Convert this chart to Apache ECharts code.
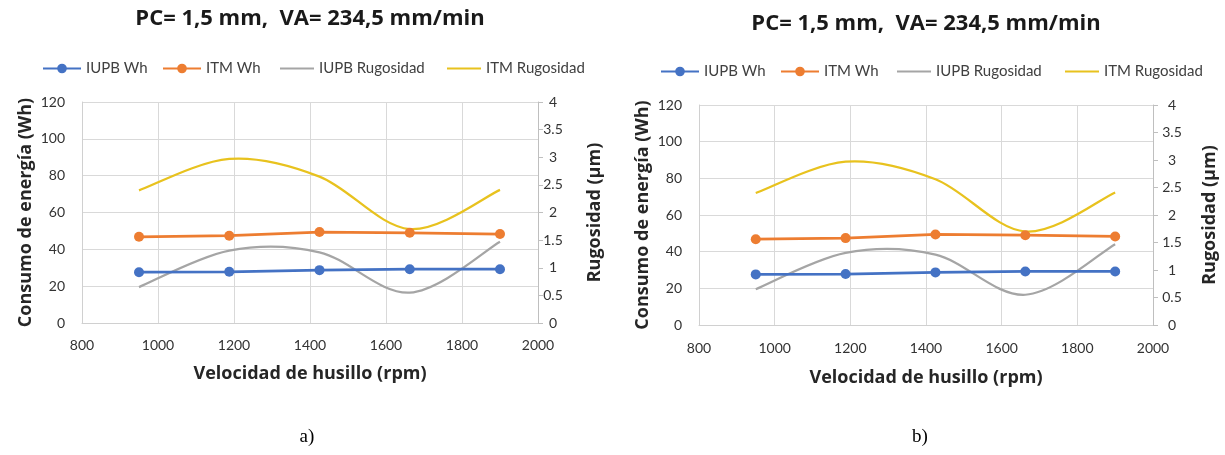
<!DOCTYPE html>
<html>
<head>
<meta charset="utf-8">
<script src="https://cdn.jsdelivr.net/npm/echarts@6/dist/echarts.min.js"></script>
<style>html,body{margin:0;padding:0;background:#fff}#c{width:1225px;height:455px}</style>
</head>
<body>
<div id="c"></div>
<script>
// ---- data ----
const speeds = [950, 1187.5, 1425, 1662.5, 1900];
const iupbWh = [27.6, 27.8, 28.7, 29.2, 29.2];
const itmWh = [46.8, 47.4, 49.4, 49.0, 48.3];
const iupbRug = [0.65, 1.31, 1.28, 0.55, 1.47];
const itmRug = [2.40, 2.97, 2.65, 1.70, 2.41];
const seriesNames = ['IUPB Wh', 'ITM Wh', 'IUPB Rugosidad', 'ITM Rugosidad'];
const titleText = 'PC= 1,5 mm,  VA= 234,5 mm/min';
const xTitle = 'Velocidad de husillo (rpm)';
const yLeftTitle = 'Consumo de energía (Wh)';
const yRightTitle = 'Rugosidad (µm)';
const panelLabels = ['a)', 'b)'];

const FONT = 'Lato';
const TFONT = 'Open Sans';
const colors = ['#4472C4', '#ED7D31', '#A5A5A5', '#E8C21E'];
const LINE_ICON = 'path://M0,0L0,13L0,0Z M0,5.4L34,5.4L34,7.6L0,7.6Z';
const chart = echarts.init(document.getElementById('c'));

const panels = [
  {grid:{left:82, top:102, width:456, height:221}, titleX:310, titleY:19, legendY:65,
   legendX:[37,157,275,442], yNameGapL:47, yNameGapR:48, xNameGap:42, xLabelMargin:15, rMargin:15, label:[307,437]},
  {grid:{left:699, top:105, width:454, height:220}, titleX:926, titleY:24, legendY:68,
   legendX:[655,775,892,1060], yNameGapL:47, yNameGapR:48, xNameGap:44, xLabelMargin:16, rMargin:19, label:[920,437]}
];

// Excel-like smoothed line drawn through the axes' own coordinate conversion
function smoothSeries(name, arr, xi, yi, color, width) {
  return {
    name: name, type: 'custom', xAxisIndex: xi, yAxisIndex: yi, z: 2,
    data: speeds.map((s, k) => [s, arr[k]]),
    encode: {x: 0, y: 1},
    itemStyle: {color: color},
    silent: true,
    renderItem: function (params, api) {
      if (params.dataIndex !== 0) return null;
      const pts = speeds.map((s, k) => api.coord([s, arr[k]]));
      let d = 'M' + pts[0][0] + ' ' + pts[0][1];
      for (let k = 0; k < pts.length - 1; k++) {
        const p0 = pts[k - 1] || pts[k], p1 = pts[k], p2 = pts[k + 1], p3 = pts[k + 2] || pts[k + 1];
        const c1 = [p1[0] + (p2[0] - p0[0]) / 6, p1[1] + (p2[1] - p0[1]) / 6];
        const c2 = [p2[0] - (p3[0] - p1[0]) / 6, p2[1] - (p3[1] - p1[1]) / 6];
        d += ' C' + c1[0] + ' ' + c1[1] + ' ' + c2[0] + ' ' + c2[1] + ' ' + p2[0] + ' ' + p2[1];
      }
      return {type: 'path', shape: {pathData: d}, style: {fill: 'none', stroke: color, lineWidth: width}};
    }
  };
}

const grids = [], xAxes = [], yAxes = [], series = [], legends = [], graphics = [];
const nameStyle = {fontFamily:TFONT, fontSize:18, fontWeight:'bold', color:'#262626'};
panels.forEach((p, i) => {
  grids.push(Object.assign({outerBoundsMode:'none', containLabel:false}, p.grid));
  xAxes.push({
    type:'value', gridIndex:i, min:800, max:2000, interval:200,
    name:xTitle, nameLocation:'middle', nameGap:p.xNameGap, nameTextStyle:nameStyle,
    axisLine:{show:true, lineStyle:{color:'#D0D0D0', width:1}},
    axisTick:{show:false},
    axisLabel:{fontFamily:FONT, fontSize:14, color:'#333', margin:p.xLabelMargin, formatter:(v) => String(v)},
    splitLine:{show:true, lineStyle:{color:'#D9D9D9', width:1}}
  });
  yAxes.push({
    type:'value', gridIndex:i, position:'left', min:0, max:120, interval:20,
    name:yLeftTitle, nameLocation:'middle', nameGap:p.yNameGapL, nameRotate:90, nameTextStyle:nameStyle,
    axisLine:{show:true, lineStyle:{color:'#D0D0D0'}},
    axisTick:{show:false},
    axisLabel:{fontFamily:FONT, fontSize:14, color:'#333', margin:17},
    splitLine:{show:true, lineStyle:{color:'#D9D9D9', width:1}}
  });
  yAxes.push({
    type:'value', gridIndex:i, position:'right', min:0, max:4, interval:0.5,
    name:yRightTitle, nameLocation:'middle', nameGap:p.yNameGapR, nameRotate:90, nameTextStyle:nameStyle,
    axisLine:{show:true, lineStyle:{color:'#BFBFBF'}},
    axisTick:{show:true, inside:false, length:5, lineStyle:{color:'#BFBFBF'}},
    axisLabel:{fontFamily:FONT, fontSize:14, color:'#333', margin:p.rMargin, align:'center'},
    splitLine:{show:false}
  });
  const yl = i*2, yr = i*2+1;
  const pair = (arr) => speeds.map((s, k) => [s, arr[k]]);
  series.push(smoothSeries(seriesNames[2], iupbRug, i, yr, colors[2], 2.25));
  series.push(smoothSeries(seriesNames[3], itmRug, i, yr, colors[3], 2.25));
  series.push({name:seriesNames[0], type:'line', xAxisIndex:i, yAxisIndex:yl, data:pair(iupbWh),
    symbol:'circle', symbolSize:10, lineStyle:{width:2.75, color:colors[0]}, itemStyle:{color:colors[0]}, z:3});
  series.push({name:seriesNames[1], type:'line', xAxisIndex:i, yAxisIndex:yl, data:pair(itmWh),
    symbol:'circle', symbolSize:10, lineStyle:{width:2.75, color:colors[1]}, itemStyle:{color:colors[1]}, z:3});
  seriesNames.forEach((n, k) => {
    const isLine = k >= 2;
    legends.push({
      data: isLine ? [{name:n, icon:LINE_ICON, itemStyle:{color:colors[k]}}] : [n],
      left:p.legendX[k], top:p.legendY-9, itemWidth:isLine ? 34 : 38, itemHeight: isLine ? 13 : 12,
      selectedMode:false, textStyle:{fontFamily:FONT, fontSize:15, color:'#404040'}
    });
  });
  graphics.push({type:'text', x:p.titleX, y:p.titleY,
    style:{text:titleText, fontFamily:TFONT, fontSize:22, fontWeight:'bold', fill:'#1a1a1a', align:'center', verticalAlign:'middle'}});
  graphics.push({type:'text', x:p.label[0], y:p.label[1],
    style:{text:panelLabels[i], fontFamily:'Liberation Serif', fontSize:19, fill:'#000', align:'center', verticalAlign:'middle'}});
});

chart.setOption({
  animation:false,
  grid:grids, xAxis:xAxes, yAxis:yAxes, series:series, legend:legends, graphic:graphics
});
</script>
</body>
</html>
